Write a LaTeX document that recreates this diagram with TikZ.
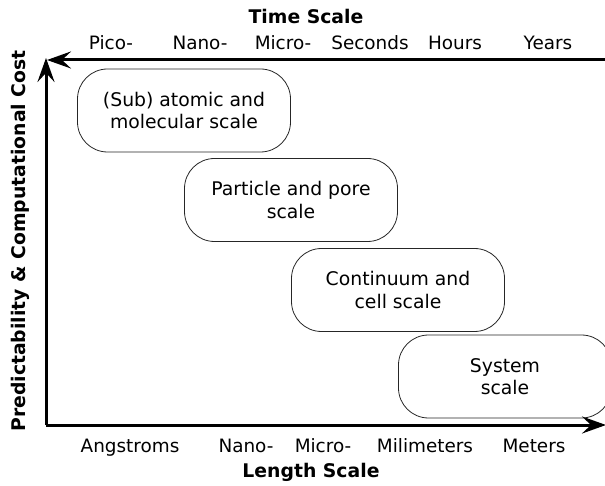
\documentclass[tikz,border=0pt]{standalone}
\usepackage{fontspec}
\setmainfont{DejaVu Sans}
\usetikzlibrary{arrows.meta}
\begin{document}
\begin{tikzpicture}[x=1pt,y=-1pt,
  scalebox/.style={draw=black!85, line width=0.8pt, rounded corners=30pt, minimum width=213pt, minimum height=83pt, align=center, font=\fontsize{18.8}{22.5}\selectfont, inner sep=0pt},
  axis/.style={line width=3pt, -{Stealth[length=24pt,width=17pt,inset=9pt]}},
  tick/.style={font=\fontsize{18.4}{20}\selectfont, anchor=base},
  title/.style={font=\bfseries\fontsize{18.8}{21}\selectfont}]
\useasboundingbox (0,0) rectangle (605,486);
\clip (0,0) rectangle (605,486);
\coordinate (O) at (46,425);
\coordinate (TL) at (46,58);
\coordinate (TR) at (607,60);
\coordinate (TE) at (47,60);
\coordinate (BR) at (606,425);
\draw[axis] (O) -- (TL);
\draw[axis] (TR) -- (TE);
\draw[axis] (O) -- (BR);
\node[title] (ts) at (306,16) {Time Scale};
\node[title] (ls) at (311,472) {Length Scale};
\node[title, rotate=90] (pc) at (20,241) {Predictability \& Computational Cost};
\node[tick] (t1) at (111,50) {Pico-};
\node[tick] (t2) at (200,50) {Nano-};
\node[tick] (t3) at (283,50) {Micro-};
\node[tick] (t4) at (370,50) {Seconds};
\node[tick] (t5) at (455,50) {Hours};
\node[tick] (t6) at (548,50) {Years};
\node[tick] (b1) at (130,452) {Angstroms};
\node[tick] (b2) at (246,452) {Nano-};
\node[tick] (b3) at (323,452) {Micro-};
\node[tick] (b4) at (425,452) {Milimeters};
\node[tick] (b5) at (534,452) {Meters};
\node[scalebox] (s1) at (184,110.5) {(Sub) atomic and\\molecular scale};
\node[scalebox] (s2) at (291,200) {Particle and pore\\scale};
\node[scalebox] (s3) at (398,290) {Continuum and\\cell scale};
\node[scalebox] (s4) at (505,376.5) {System\\scale};
\end{tikzpicture}
\end{document}
